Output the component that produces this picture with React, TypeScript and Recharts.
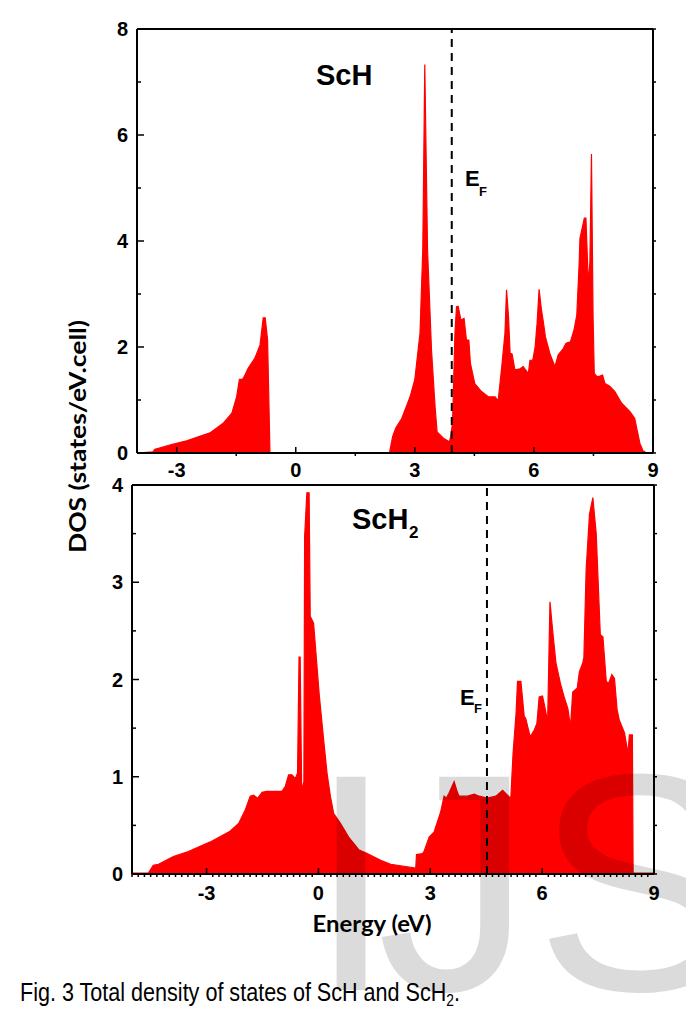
import { AreaChart, Area, XAxis, YAxis, ReferenceLine } from "recharts";

// ScH total DOS (energy in eV, states/eV.cell)
const SCH_ENERGY = [
  -4.0, -3.6, -3.55, -3.46, -3.13, -2.75, -2.16, -1.83, -1.61, -1.49, -1.42, -1.34, -1.3, -1.2,
  -1.03, -0.9, -0.82, -0.77, -0.71, -0.65, 2.36, 2.44, 2.52, 2.67, 2.88, 3.0, 3.13, 3.2, 3.25,
  3.32, 3.42, 3.51, 3.56, 3.72, 3.87, 3.9, 3.95, 4.01, 4.05, 4.09, 4.16, 4.24, 4.3, 4.36, 4.4,
  4.51, 4.68, 4.85, 5.02, 5.1, 5.19, 5.27, 5.31, 5.36, 5.4, 5.45, 5.52, 5.65, 5.73, 5.86, 5.9,
  5.97, 6.03, 6.08, 6.13, 6.19, 6.23, 6.29, 6.4, 6.53, 6.61, 6.74, 6.81, 6.92, 7.01, 7.08, 7.14,
  7.16, 7.27, 7.31, 7.37, 7.41, 7.45, 7.49, 7.52, 7.59, 7.66, 7.73, 7.79, 7.91, 8.04, 8.21, 8.42,
  8.54, 8.6, 8.67, 8.75, 8.84, 9.0,
];
const SCH_DOS = [
  0, 0.02, 0.07, 0.09, 0.16, 0.23, 0.38, 0.56, 0.75, 1.06, 1.39, 1.39, 1.44, 1.6,
  1.79, 2.04, 2.55, 2.55, 2.13, 0, 0, 0.31, 0.47, 0.65, 1.06, 1.39, 2.26, 3.83, 7.33,
  3.83, 1.94, 0.87, 0.4, 0.28, 0.21, 0.3, 0.57, 2.26, 2.76, 2.77, 2.51, 2.54, 2.13, 2.13, 1.69,
  1.31, 1.16, 1.06, 1.06, 0.99, 1.63, 2.26, 3.08, 2.57, 1.88, 1.87, 1.57, 1.59, 1.63, 1.5, 1.75,
  1.75, 2.0, 2.45, 3.09, 2.7, 2.51, 2.19, 1.88, 1.63, 1.85, 1.97, 2.07, 2.1, 2.32, 2.6, 3.58,
  4.05, 4.43, 4.43, 3.2, 3.6, 5.64, 2.57, 1.5, 1.44, 1.45, 1.47, 1.31, 1.26, 1.16, 0.94, 0.78,
  0.65, 0.43, 0.18, 0.04, 0, 0,
];

// ScH2 total DOS
const SCH2_ENERGY = [
  -5.0, -4.56, -4.43, -4.29, -3.89, -3.49, -2.9, -2.37, -2.14, -1.96, -1.83, -1.74, -1.63, -1.51,
  -1.38, -0.98, -0.89, -0.8, -0.71, -0.62, -0.56, -0.52, -0.49, -0.45, -0.39, -0.37, -0.31, -0.25,
  -0.22, -0.13, 0.02, 0.14, 0.23, 0.32, 0.41, 0.59, 0.81, 1.08, 1.31, 1.67, 1.94, 2.61, 2.63,
  2.79, 2.83, 2.97, 3.1, 3.28, 3.37, 3.43, 3.5, 3.64, 3.71, 3.77, 4.0, 4.18, 4.31, 4.53, 4.76,
  4.94, 5.07, 5.16, 5.22, 5.3, 5.34, 5.43, 5.52, 5.56, 5.68, 5.79, 5.86, 5.92, 6.01, 6.07, 6.13,
  6.15, 6.21, 6.28, 6.37, 6.49, 6.59, 6.69, 6.76, 6.82, 6.94, 7.0, 7.09, 7.12, 7.18, 7.27, 7.36,
  7.45, 7.56, 7.63, 7.72, 7.78, 7.87, 7.94, 8.01, 8.07, 8.21, 8.3, 8.34, 8.42, 8.44, 9.0,
];
const SCH2_DOS = [
  0.01, 0.01, 0.09, 0.1, 0.18, 0.23, 0.33, 0.44, 0.52, 0.66, 0.8, 0.81, 0.78, 0.84,
  0.85, 0.85, 0.9, 1.02, 1.02, 0.98, 1.04, 2.23, 2.23, 0.86, 0.95, 3.47, 3.92, 3.92,
  2.65, 2.58, 1.85, 1.38, 1.04, 0.8, 0.62, 0.52, 0.38, 0.25, 0.21, 0.14, 0.1, 0.06, 0.2,
  0.21, 0.23, 0.38, 0.43, 0.64, 0.8, 0.78, 0.83, 0.95, 0.86, 0.8, 0.8, 0.82, 0.8, 0.78, 0.8,
  0.86, 0.81, 0.78, 1.24, 1.65, 1.98, 1.98, 1.62, 1.6, 1.41, 1.48, 1.55, 1.82, 1.83, 1.72, 1.6,
  1.62, 2.8, 2.51, 2.17, 1.96, 1.82, 1.7, 1.51, 1.87, 1.91, 2.08, 2.17, 2.23, 3.13, 3.7, 3.87,
  3.5, 2.46, 2.44, 1.98, 1.96, 2.05, 2.01, 1.69, 1.58, 1.45, 1.24, 1.43, 1.43, 0.01, 0.01,
];

const EF_SCH = 3.93;
const EF_SCH2 = 4.52;

const X_LABELS = [-3, 0, 3, 6, 9];
const SCH_X_TICKS = [-3, -1.5, 0, 1.5, 3, 4.5, 6, 7.5, 9];
const SCH2_X_TICKS = Array.from({ length: 85 }, (_, i) => -5 + i / 6);
const SCH_Y_TICKS = [0, 1, 2, 3, 4, 5, 6, 7, 8];
const SCH_Y_LABELS = [0, 2, 4, 6, 8];
const SCH2_Y_TICKS = [0, 0.5, 1, 1.5, 2, 2.5, 3, 3.5, 4];
const SCH2_Y_LABELS = [0, 1, 2, 3, 4];

const toRows = (e: number[], d: number[]) => e.map((x, i) => ({ e: x, dos: d[i] }));

const TICK_FONT = "'Liberation Sans', Arial, sans-serif";
const LABEL_FONT = "Lato, 'Open Sans', sans-serif";
const RED = "#ff0000";

type Side = "left" | "right" | "top" | "bottom";

// draws tick marks from the axis line; positive length points into the plot
function tickMarks(side: Side, majors: number[], majorLen: number, minorLen: number, gap = 0) {
  return (props: any) => {
    const { x, y, payload } = props;
    const v = payload.value as number;
    const major = majors.some((m) => Math.abs(m - v) < 1e-6);
    const len = major ? majorLen : minorLen;
    let x2 = x;
    let y2 = y;
    if (side === "bottom") y2 = y - len;
    if (side === "top") y2 = y + len;
    if (side === "left") x2 = x + len;
    if (side === "right") x2 = x - len;
    let label = null;
    if (major && gap > 0 && side === "bottom") {
      label = (
        <text x={x} y={y + gap + 14.3} textAnchor="middle" fontFamily={TICK_FONT} fontWeight="bold" fontSize={20} fill="#000">
          {Math.round(v)}
        </text>
      );
    }
    if (major && gap > 0 && side === "left") {
      label = (
        <text x={x - gap} y={y + 7.2} textAnchor="end" fontFamily={TICK_FONT} fontWeight="bold" fontSize={20} fill="#000">
          {Math.round(v)}
        </text>
      );
    }
    return (
      <g>
        {len !== 0 && <line x1={x} y1={y} x2={x2} y2={y2} stroke="#000" strokeWidth={1.5} />}
        {label}
      </g>
    );
  };
}

const axisLine = { stroke: "#000", strokeWidth: 2 };

function Panel(props: {
  rows: { e: number; dos: number }[];
  xDomain: [number, number];
  yDomain: [number, number];
  xTicks: number[];
  yTicks: number[];
  yLabels: number[];
  ef: number;
  height: number;
  margin: { top: number; right: number; bottom: number; left: number };
  xGap: number;
}) {
  const { rows, xDomain, yDomain, xTicks, yTicks, yLabels, ef, height, margin, xGap } = props;
  return (
    <AreaChart width={694} height={height} data={rows} margin={margin}>
      <XAxis
        xAxisId="b"
        dataKey="e"
        type="number"
        domain={xDomain}
        allowDataOverflow
        ticks={xTicks}
        interval={0}
        height={30}
        tickSize={0}
        tickMargin={0}
        tickLine={false}
        axisLine={axisLine}
        tick={tickMarks("bottom", X_LABELS, 6, -3, xGap)}
      />
      <YAxis
        yAxisId="l"
        type="number"
        domain={yDomain}
        allowDataOverflow
        ticks={yTicks}
        interval={0}
        width={40}
        tickSize={0}
        tickMargin={0}
        tickLine={false}
        axisLine={axisLine}
        tick={tickMarks("left", yLabels, 7, 4, 9)}
      />
      <YAxis
        yAxisId="r"
        orientation="right"
        type="number"
        domain={yDomain}
        allowDataOverflow
        ticks={yTicks}
        interval={0}
        width={1}
        tickSize={0}
        tickMargin={0}
        tickLine={false}
        axisLine={axisLine}
        tick={tickMarks("right", [], -3, -3)}
      />
      <Area
        xAxisId="b"
        yAxisId="l"
        type="linear"
        dataKey="dos"
        stroke={RED}
        strokeWidth={1.2}
        fill={RED}
        fillOpacity={1}
        dot={false}
        activeDot={false}
        isAnimationActive={false}
      />
      <ReferenceLine xAxisId="b" yAxisId="l" y={yDomain[1]} stroke="#000" strokeWidth={2} />
      <ReferenceLine
        xAxisId="b"
        yAxisId="l"
        x={ef}
        stroke="#000"
        strokeWidth={2}
        strokeDasharray="8 6"
      />
    </AreaChart>
  );
}

export default function App() {
  return (
    <div
      style={{
        position: "relative",
        width: 694,
        height: 1014,
        margin: -8,
        overflow: "hidden",
        background: "#fff",
      }}
    >
      <div
        style={{
          position: "absolute",
          left: 3,
          top: 3,
          width: 1000,
          height: 1200,
          border: "2px solid #333",
        }}
      />
      <div style={{ position: "absolute", left: 0, top: 0 }}>
        <Panel
          rows={toRows(SCH_ENERGY, SCH_DOS)}
          xDomain={[-4, 9]}
          yDomain={[0, 8]}
          xTicks={SCH_X_TICKS}
          yTicks={SCH_Y_TICKS}
          yLabels={SCH_Y_LABELS}
          ef={EF_SCH}
          height={500}
          margin={{ top: 29, right: 40, bottom: 17, left: 97 }}
          xGap={10}
        />
      </div>
      <div style={{ position: "absolute", left: 0, top: 470 }}>
        <Panel
          rows={toRows(SCH2_ENERGY, SCH2_DOS)}
          xDomain={[-5, 9]}
          yDomain={[0, 4]}
          xTicks={SCH2_X_TICKS}
          yTicks={SCH2_Y_TICKS}
          yLabels={SCH2_Y_LABELS}
          ef={EF_SCH2}
          height={480}
          margin={{ top: 15, right: 39, bottom: 46, left: 92 }}
          xGap={12}
        />
      </div>
      <svg
        width={694}
        height={1014}
        style={{ position: "absolute", left: 0, top: 0, pointerEvents: "none" }}
      >
        <g fontFamily={TICK_FONT} fontWeight="bold" fill="#000">
          <text x={316} y={85} fontSize={29}>ScH</text>
          <text x={352} y={529} fontSize={29}>ScH</text>
          <text x={409} y={538} fontSize={17}>2</text>
          <text x={465} y={186} fontSize={22}>E</text>
          <text x={479} y={196} fontSize={13}>F</text>
          <text x={460} y={705} fontSize={22}>E</text>
          <text x={474} y={713} fontSize={13}>F</text>
        </g>
        <text
          transform="translate(86 436.5) rotate(-90)"
          textAnchor="middle"
          fontFamily={LABEL_FONT}
          fontWeight="bold"
          fontSize={23}
          textLength={233}
          lengthAdjust="spacingAndGlyphs"
          fill="#000"
        >
          DOS (states/eV.cell)
        </text>
        <text
          x={372}
          y={932}
          textAnchor="middle"
          fontFamily={LABEL_FONT}
          fontWeight="bold"
          fontSize={23}
          textLength={119}
          lengthAdjust="spacingAndGlyphs"
          fill="#000"
        >
          Energy (eV)
        </text>
        <text
          x={20}
          y={1001}
          fontFamily="'Liberation Sans Narrow', 'Arial Narrow', 'Liberation Sans', sans-serif"
          fontSize={25}
          textLength={440}
          lengthAdjust="spacingAndGlyphs"
          fill="#000"
        >
          Fig. 3 Total density of states of ScH and ScH
          <tspan fontSize={16} dy={5}>2</tspan>
          <tspan dy={-5}>.</tspan>
        </text>
        <g fontFamily={TICK_FONT} fontSize={310} fill="#000" fillOpacity={0.14}>
          <text x={308} y={990}>I</text>
          <text x={377} y={990}>J</text>
          <text x={535} y={990}>S</text>
        </g>
      </svg>
    </div>
  );
}
